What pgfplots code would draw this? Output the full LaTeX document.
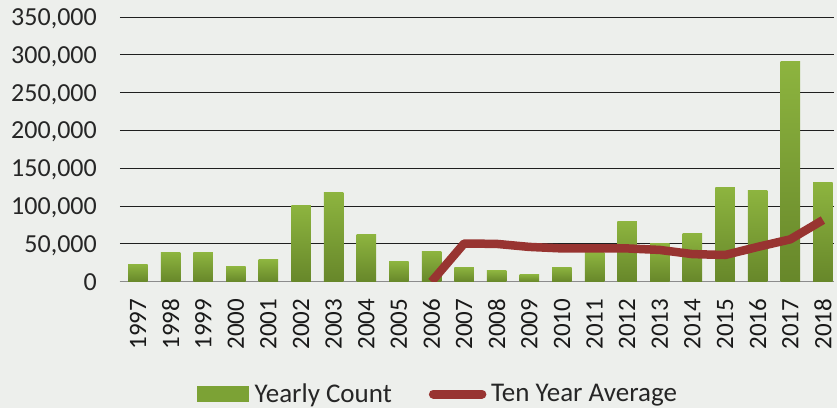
\documentclass[border=0pt]{standalone}
\usepackage{fontspec}
\setmainfont{Carlito}
\usepackage{pgfplots}
\pgfplotsset{compat=1.18}
\definecolor{bg}{HTML}{EDEFEC}
\definecolor{bartop}{HTML}{8DB43F}
\definecolor{barbot}{HTML}{67872A}
\definecolor{barmid}{HTML}{7CA235}
\definecolor{avgred}{HTML}{983431}
\pgfplotsset{mybar/.style={ybar, bar width=19.5pt, bar shift=0pt, draw=none, top color=bartop, bottom color=barbot, forget plot}}
\begin{document}
\begin{tikzpicture}[x=1pt,y=1pt]
\fill[bg] (0,0) rectangle (837,408);
\path[use as bounding box] (0,0) rectangle (837,408);
\begin{axis}[
  at={(120pt,126.3pt)}, anchor=south west,
  scale only axis, width=714pt, height=264.7pt,
  xmin=-0.55, xmax=21.34, ymin=0, ymax=350000,
  axis line style={draw=none},
  tick style={draw=none},
  ymajorgrids, grid style={black!88, line width=0.9pt},
  ytick={0,50000,100000,150000,200000,250000,300000,350000},
  scaled y ticks=false,
  yticklabel style={/pgf/number format/fixed, /pgf/number format/1000 sep={,}, /pgf/number format/assume math mode=true},
  y tick label style={font=\fontsize{26}{26}\selectfont, inner sep=0pt, anchor=east, text depth=0pt, text=black!85},
  yticklabel shift=23pt,
  xtick={0,...,21},
  xticklabels={1997,1998,1999,2000,2001,2002,2003,2004,2005,2006,2007,2008,2009,2010,2011,2012,2013,2014,2015,2016,2017,2018},
  x tick label style={font=\fontsize{25}{26}\selectfont, inner sep=0pt, rotate=90, anchor=east, text=black!90},
  xticklabel shift=17pt,
  legend style={draw=none, fill=none, at={(axis description cs:0.1078,-0.4243)}, anchor=west,
    inner sep=0pt, font=\fontsize{27}{27}\selectfont, text=black!85,
    /tikz/every even column/.append style={column sep=37pt},
    nodes={inner sep=0pt}},
  legend columns=2,
]
\draw[black!45, line width=1.3pt] (axis cs:-0.55,0) -- (axis cs:21.34,0);
\addplot[mybar] coordinates {(0,23000)};
\addplot[mybar] coordinates {(1,38300)};
\addplot[mybar] coordinates {(2,38000)};
\addplot[mybar] coordinates {(3,19800)};
\addplot[mybar] coordinates {(4,28700)};
\addplot[mybar] coordinates {(5,100500)};
\addplot[mybar] coordinates {(6,118000)};
\addplot[mybar] coordinates {(7,62000)};
\addplot[mybar] coordinates {(8,26400)};
\addplot[mybar] coordinates {(9,40000)};
\addplot[mybar] coordinates {(10,19400)};
\addplot[mybar] coordinates {(11,14500)};
\addplot[mybar] coordinates {(12,9800)};
\addplot[mybar] coordinates {(13,19400)};
\addplot[mybar] coordinates {(14,38000)};
\addplot[mybar] coordinates {(15,79000)};
\addplot[mybar] coordinates {(16,50000)};
\addplot[mybar] coordinates {(17,64000)};
\addplot[mybar] coordinates {(18,124800)};
\addplot[mybar] coordinates {(19,121000)};
\addplot[mybar] coordinates {(20,291000)};
\addplot[mybar] coordinates {(21,131000)};
\addlegendimage{legend image code/.code={\fill[barmid] (0pt,-7.5pt) rectangle (51pt,7.5pt); \path (57pt,0pt);}}
\addlegendentry{Yearly Count}
\addplot[avgred, line width=8.5pt, line join=round,
  legend image code/.code={\draw[avgred, line width=9pt, line cap=round] (4.5pt,0pt) -- (53pt,0pt); \path (58pt,0pt);}]
coordinates {
(9,0) (10,50500) (11,50000) (12,46000) (13,44000) (14,44000) (15,44000) (16,42000)
(17,36500) (18,35300) (19,46000) (20,56000) (21,81500)
};
\addlegendentry{Ten Year Average}
\end{axis}
\end{tikzpicture}
\end{document}
